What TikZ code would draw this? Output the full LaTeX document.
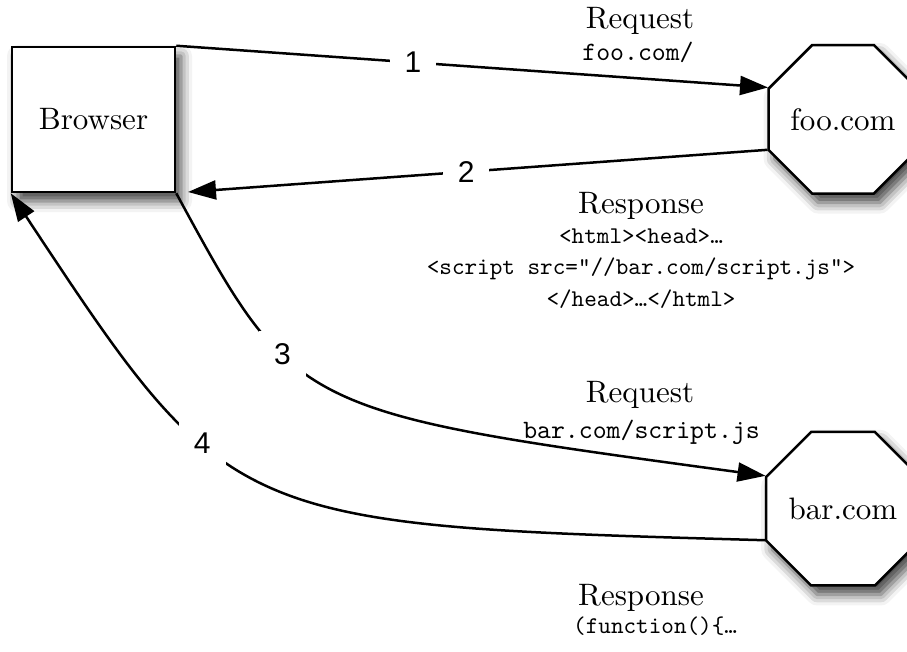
\documentclass[tikz,border=0pt]{standalone}
\usepackage{fontspec}
\newfontfamily\stepfont{Liberation Sans}
% design-size 10 faces, scaled up (heavier than the large optical sizes)
\newfontfamily\romanten{lmroman10-regular}[Extension=.otf]
\newfontfamily\monoten{lmmono10-regular}[Extension=.otf]
\usetikzlibrary{arrows.meta,shapes.geometric,shadows.blur}

\begin{document}
\begin{tikzpicture}[x=1pt,y=-1pt,
  every node/.style={inner sep=0pt},
  serif/.style={font=\fontsize{31pt}{37pt}\romanten},
  code/.style={font=\fontsize{24pt}{28pt}\monoten},
  url/.style={font=\fontsize{26.5pt}{30pt}\monoten},
  host/.style={draw, line width=2.5pt, fill=white, serif,
    blur shadow={shadow xshift=6pt, shadow yshift=-9pt,
      shadow blur radius=11pt, shadow opacity=75}},
  octo/.style={host, regular polygon, regular polygon sides=8,
    minimum size=154pt},
  flow/.style={line width=2.5pt, -{Triangle[length=28pt,width=19pt]}},
  stepnum/.style={fill=white, inner xsep=15pt, inner ysep=13pt,
    font=\fontsize{30pt}{36pt}\stepfont}]

  \clip (0,0) rectangle (907,652);

  % hosts
  \node[host, minimum width=163pt, minimum height=145pt] (browser) at (93.5,119.5) {Browser};
  \node[octo] (foo) at (843,119.3) {foo.com};
  \node[octo] (bar) at (843,508.7) {bar.com};

  % free end of the response arrow, just short of the browser
  \coordinate (resp1end) at (188,192);

  % connectors with their step numbers
  \draw[flow] (browser.north east) -- (foo.157.5)
    node[stepnum, pos=0.4] (n1) {1};
  \draw[flow] (foo.202.5) -- (resp1end)
    node[stepnum, pos=0.52] (n2) {2};
  \draw[flow] (browser.south east) .. controls (295,412) and (295,412) .. (bar.157.5)
    node[stepnum, pos=0.35] (n3) {3};
  \draw[flow] (bar.202.5) .. controls (230,525) and (230,525) .. (browser.south west)
    node[stepnum, pos=0.63] (n4) {4};

  % messages exchanged with foo.com
  \node[serif, anchor=base] (reqfoo) at (640,29) {Request};
  \node[url, anchor=base] (reqfoourl) at (638,61) {foo.com/};
  \node[serif, anchor=base] (respfoo) at (641,214) {Response};
  \node[code, anchor=base] (respfooa) at (641,244) {<html><head>…};
  \node[code, anchor=base] (respfoob) at (641,275) {<script src="//bar.com/script.js">};
  \node[code, anchor=base] (respfooc) at (641,306) {</head>…</html>};

  % messages exchanged with bar.com
  \node[serif, anchor=base] (reqbar) at (640,402) {Request};
  \node[url, anchor=base] (reqbarurl) at (641.5,438) {bar.com/script.js};
  \node[serif, anchor=base] (respbar) at (641,605) {Response};
  \node[code, anchor=base west] (respbarcode) at (573,633) {(function()\{…};
\end{tikzpicture}
\end{document}
